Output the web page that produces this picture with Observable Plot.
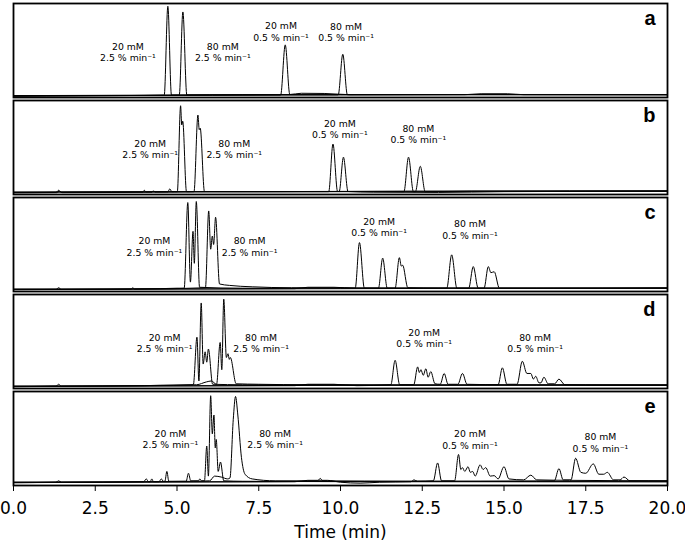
<!DOCTYPE html>
<html><head><meta charset="utf-8">
<script src="https://cdn.jsdelivr.net/npm/d3@7"></script>
<script src="https://cdn.jsdelivr.net/npm/@observablehq/plot@0.6"></script>
<style>body{margin:0;background:#fff}</style>
</head><body><div id="chart"></div>
<script>
const panels = ["a", "b", "c", "d", "e"];
const runs = ["20 mM 2.5", "80 mM 2.5", "20 mM 0.5", "80 mM 0.5"];
const xTicks = [0, 2.5, 5, 7.5, 10, 12.5, 15, 17.5, 20];

// [time (min), normalised absorbance]
const a1 = [[0,0.012],[2,0.018],[4.0,0.022],[4.61,0.024],[4.72,0.97],[4.83,0.026],[6,0.028],[8,0.03],[12,0.03],[16,0.03],[20,0.03]];
const a2 = [[0,0.016],[3,0.02],[5.07,0.025],[5.18,0.91],[5.3,0.027],[7,0.03],[10,0.028],[14,0.032],[20,0.032]];
const a3 = [[0,0.02],[4,0.022],[8.17,0.026],[8.31,0.56],[8.45,0.032],[8.8,0.045],[9.5,0.043],[10.3,0.03],[14,0.03],[20,0.028]];
const a4 = [[0,0.02],[6,0.026],[9.93,0.028],[10.07,0.46],[10.21,0.03],[13.8,0.03],[14.3,0.04],[15.1,0.04],[15.6,0.03],[20,0.03]];

const b1 = [[0,0.02],[1.3,0.022],[1.38,0.045],[1.46,0.024],[3.95,0.026],[4.0,0.045],[4.05,0.027],[4.72,0.028],[4.78,0.06],[4.84,0.03],[5.01,0.03],[5.11,0.944],[5.145,0.74],[5.175,0.78],[5.29,0.03],[7,0.03],[12,0.035],[20,0.035]];
const b2 = [[0,0.018],[1.32,0.02],[1.4,0.035],[1.48,0.02],[4.24,0.025],[4.28,0.04],[4.32,0.026],[5.52,0.03],[5.64,0.845],[5.68,0.69],[5.71,0.705],[5.84,0.032],[8,0.03],[14,0.035],[20,0.035]];
const b3 = [[0,0.025],[5,0.028],[8,0.03],[9.64,0.03],[9.77,0.537],[9.91,0.032],[9.96,0.032],[10.09,0.397],[10.23,0.032],[11,0.025],[13,0.022],[15,0.03],[20,0.035]];
const b4 = [[0,0.025],[6,0.03],[11.94,0.03],[12.08,0.397],[12.23,0.03],[12.29,0.03],[12.44,0.30],[12.59,0.03],[14,0.035],[20,0.04]];

const c1 = [[0,0.02],[1.3,0.022],[1.38,0.04],[1.46,0.022],[4.5,0.03],[5.0,0.035],[5.22,0.035],[5.33,0.946],[5.41,0.1],[5.49,0.64],[5.53,0.3],[5.59,0.957],[5.69,0.045],[7,0.035],[12,0.035],[20,0.035]];
const c2 = [[0,0.02],[3.6,0.025],[3.65,0.04],[3.7,0.025],[5.87,0.04],[5.97,0.857],[6.03,0.45],[6.08,0.59],[6.12,0.5],[6.18,0.79],[6.3,0.08],[6.6,0.065],[7.3,0.05],[8.5,0.04],[20,0.035]];
const c3 = [[0,0.025],[8.6,0.03],[9.0,0.045],[9.8,0.045],[10.45,0.035],[10.58,0.52],[10.73,0.035],[11.16,0.035],[11.29,0.355],[11.43,0.035],[11.67,0.035],[11.8,0.36],[11.86,0.27],[11.9,0.28],[12.06,0.04],[13,0.035],[20,0.035]];
const c4 = [[0,0.025],[10,0.03],[13.25,0.035],[13.4,0.39],[13.56,0.035],[13.92,0.035],[14.06,0.265],[14.21,0.035],[14.39,0.035],[14.52,0.265],[14.6,0.2],[14.7,0.21],[14.86,0.035],[16,0.035],[20,0.04]];

const d1 = [[0,0.02],[1.3,0.025],[1.38,0.045],[1.46,0.025],[4,0.03],[4.5,0.035],[5.5,0.04],[5.61,0.546],[5.67,0.08],[5.74,0.91],[5.8,0.26],[5.86,0.39],[5.91,0.28],[5.96,0.42],[6.09,0.045],[7,0.04],[12,0.035],[20,0.035]];
const d2 = [[0,0.02],[4.2,0.03],[5.6,0.04],[5.9,0.07],[6.05,0.08],[6.21,0.045],[6.32,0.49],[6.37,0.2],[6.43,0.95],[6.51,0.33],[6.56,0.37],[6.6,0.31],[6.63,0.33],[6.81,0.05],[7.5,0.045],[9,0.04],[20,0.035]];
const d3v = [[0,0.025],[8.6,0.03],[9.0,0.045],[9.8,0.045],[10.5,0.03],[11.54,0.04],[11.67,0.30],[11.81,0.04],[12.24,0.04],[12.36,0.23],[12.41,0.17],[12.46,0.2],[12.53,0.14],[12.61,0.21],[12.68,0.12],[12.76,0.18],[12.89,0.05],[13.05,0.045],[13.17,0.16],[13.29,0.045],[13.59,0.045],[13.73,0.16],[13.87,0.045],[15,0.04],[20,0.04]];
const d4 = [[0,0.025],[11,0.035],[14.82,0.04],[14.95,0.22],[15.09,0.045],[15.4,0.045],[15.56,0.29],[15.7,0.16],[15.82,0.16],[15.9,0.1],[15.97,0.13],[16.07,0.06],[16.13,0.06],[16.22,0.12],[16.35,0.05],[16.55,0.05],[16.68,0.1],[16.86,0.04],[18,0.035],[20,0.035]];

const e1 = [[0,0.03],[1.3,0.035],[1.38,0.05],[1.46,0.035],[3.98,0.04],[4.06,0.07],[4.13,0.04],[4.18,0.04],[4.23,0.07],[4.28,0.04],[4.45,0.04],[4.52,0.07],[4.58,0.045],[4.63,0.045],[4.69,0.15],[4.75,0.045],[5.28,0.045],[5.35,0.13],[5.42,0.05],[5.65,0.05],[5.7,0.07],[5.75,0.05],[5.84,0.05],[5.91,0.42],[5.96,0.1],[6.03,0.955],[6.08,0.55],[6.13,0.75],[6.17,0.4],[6.2,0.49],[6.26,0.15],[6.33,0.25],[6.43,0.05],[7,0.045],[12,0.04],[20,0.04]];
const e2 = [[0,0.03],[5.5,0.045],[6.0,0.05],[6.15,0.1],[6.35,0.09],[6.55,0.07],[6.62,0.08],[6.72,0.7],[6.79,0.947],[6.86,0.75],[6.97,0.3],[7.08,0.12],[7.3,0.07],[8,0.05],[9.3,0.05],[9.38,0.075],[9.46,0.05],[12,0.045],[20,0.04]];
const e3 = [[0,0.035],[8.6,0.04],[9.0,0.055],[9.6,0.055],[10.0,0.035],[10.6,0.025],[11.2,0.035],[12.15,0.04],[12.25,0.06],[12.35,0.045],[12.84,0.05],[12.97,0.24],[13.09,0.05],[13.49,0.05],[13.61,0.33],[13.68,0.17],[13.73,0.19],[13.8,0.15],[13.9,0.2],[13.97,0.14],[14.04,0.15],[14.12,0.1],[14.27,0.22],[14.36,0.17],[14.44,0.19],[14.58,0.1],[14.7,0.105],[14.82,0.07],[15.0,0.2],[15.15,0.07],[15.6,0.06],[15.82,0.11],[16.0,0.06],[17,0.055],[20,0.05]];
const e4 = [[0,0.035],[12,0.045],[16.54,0.05],[16.68,0.18],[16.81,0.06],[17.05,0.06],[17.19,0.29],[17.35,0.14],[17.5,0.13],[17.73,0.23],[17.9,0.12],[18.05,0.12],[18.16,0.14],[18.35,0.06],[18.55,0.06],[18.67,0.09],[18.85,0.05],[20,0.05]];

const traces = {a: [a1, a2, a3, a4], b: [b1, b2, b3, b4], c: [c1, c2, c3, c4], d: [d1, d2, d3v, d4], e: [e1, e2, e3, e4]};

const labelPanels = ["a","a","a","a","b","b","b","b","c","c","c","c","d","d","d","d","e","e","e","e"];
const labelConc = ["20 mM","80 mM","20 mM","80 mM","20 mM","80 mM","20 mM","80 mM","20 mM","80 mM","20 mM","80 mM","20 mM","80 mM","20 mM","80 mM","20 mM","80 mM","20 mM","80 mM"];
const labelGrad = ["2.5","2.5","0.5","0.5","2.5","2.5","0.5","0.5","2.5","2.5","0.5","0.5","2.5","2.5","0.5","0.5","2.5","2.5","0.5","0.5"];
const labelTimes = [3.50, 6.40, 8.18, 10.17, 4.18, 6.75, 9.98, 12.38, 4.31, 7.22, 11.18, 13.96, 4.62, 7.57, 12.56, 15.95, 4.80, 8.0, 13.96, 17.95];
const labelY = [0.487, 0.487, 0.704, 0.70, 0.484, 0.484, 0.695, 0.644, 0.48, 0.48, 0.69, 0.66, 0.488, 0.488, 0.537, 0.488, 0.493, 0.493, 0.49, 0.46];

const rows = [];
for (const p of panels) {
  traces[p].forEach((tr, i) => {
    for (const [t, v] of tr) rows.push({panel: p, run: runs[i], time: t, signal: v});
  });
}
const labelRows = labelPanels.map((p, i) => ({
  panel: p, time: labelTimes[i], y: labelY[i],
  text: `${labelConc[i]}\n${labelGrad[i]} % min\u207B\u00B9`
}));

const chart = Plot.plot({
  width: 685, height: 541,
  marginTop: 2, marginBottom: 56, marginLeft: 13, marginRight: 18,
  style: {fontFamily: "DejaVu Sans", background: "white", color: "black"},
  x: {domain: [0, 20]},
  y: {domain: [0, 1], axis: null},
  fy: {domain: panels, axis: null, paddingInner: 0.031, paddingOuter: 0},
  marks: [
    Plot.line(rows, {x: "time", y: "signal", z: "run", fy: "panel", stroke: "black", strokeWidth: 1, curve: "monotone-x"}),
    Plot.frame({stroke: "black", strokeWidth: 1.8}),
    Plot.text(labelRows, {x: "time", y: "y", fy: "panel", text: "text", fontSize: 9.3, lineHeight: 1.22, lineAnchor: "middle", fill: "black"}),
    Plot.text(panels, {fy: d => d, text: d => d, frameAnchor: "top-right", textAnchor: "end", dx: -12, dy: 21, lineAnchor: "bottom", fontSize: 20, fontWeight: "bold", fontFamily: "Liberation Sans", fill: "black"}),
    Plot.axisX({ticks: xTicks, tickFormat: d => d.toFixed(1), tickSize: 6, tickPadding: 10, fontSize: 17, label: "Time (min)", labelAnchor: "center", labelOffset: 52, labelArrow: "none"})
  ]
});
document.getElementById("chart").appendChild(chart);
</script>
</body></html>
